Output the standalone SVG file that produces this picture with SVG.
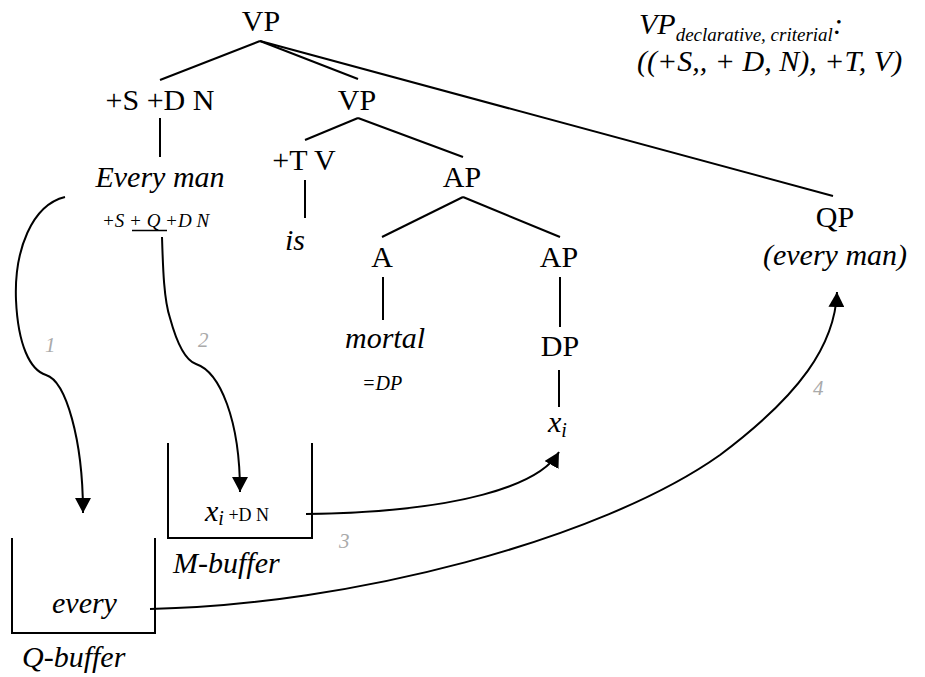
<svg xmlns="http://www.w3.org/2000/svg" width="925" height="677" viewBox="0 0 925 677" font-family="'Liberation Serif', 'DejaVu Serif', serif">
<style>
text{font-family:'Liberation Serif','DejaVu Serif',serif;fill:#000}
.b{font-size:30px}
.i{font-style:italic}
.s{font-size:19px}
.n{font-size:21px;font-style:italic;fill:#aaaaaa}
.e{stroke:#000;stroke-width:2;fill:none}
.a{stroke:#000;stroke-width:2;fill:none;marker-end:url(#ah)}
</style>
<defs>
<marker id="ah" markerUnits="userSpaceOnUse" markerWidth="16" markerHeight="16" refX="15" refY="8" orient="auto" viewBox="0 0 16 16">
<path d="M0,0 L15,8 L0,16 z" fill="#000"/>
</marker>
</defs>
<rect width="925" height="677" fill="#fff"/>
<g id="edges">
<line class="e" x1="260" y1="41" x2="160" y2="80"/>
<line class="e" x1="260" y1="41" x2="358" y2="79"/>
<line class="e" x1="260" y1="41" x2="833" y2="196"/>
<line class="e" x1="160" y1="118" x2="160" y2="157"/>
<line class="e" x1="358" y1="118" x2="305" y2="140"/>
<line class="e" x1="358" y1="118" x2="463" y2="157"/>
<line class="e" x1="305" y1="180" x2="305" y2="218"/>
<line class="e" x1="463" y1="197" x2="382" y2="237"/>
<line class="e" x1="463" y1="197" x2="560" y2="237"/>
<line class="e" x1="383" y1="277" x2="383" y2="320"/>
<line class="e" x1="560" y1="277" x2="560" y2="327"/>
<line class="e" x1="559" y1="370" x2="559" y2="407"/>
</g>
<g id="arrows">
<path class="a" d="M65,197 C32,205 14,250 16,300 C18,345 30,370 46,375 C66,381 83,440 83,513"/>
<path class="a" d="M162,237 C163,270 164,300 170,318 C176,340 184,360 196,364 C220,372 240,420 240,492"/>
<path class="a" d="M306,514 C460,512 540,485 559,452"/>
<path class="a" d="M150,609 C350,605 600,540 720,455 C800,395 835,345 837,292"/>
</g>
<g id="VP-top"><text class="b" x="261" y="31" text-anchor="middle">VP</text></g>
<g id="SDN"><text class="b" x="160" y="110" text-anchor="middle">+S +D N</text></g>
<g id="VP2"><text class="b" x="357" y="110" text-anchor="middle">VP</text></g>
<g id="TV"><text class="b" x="304" y="170" text-anchor="middle">+T V</text></g>
<g id="every-man">
<text class="b i" x="160" y="187" text-anchor="middle">Every man</text>
<text class="s i" x="102" y="227">+S + Q +D N</text>
<line x1="132" y1="230.5" x2="167" y2="230.5" stroke="#000" stroke-width="1.5"/>
</g>
<g id="is"><text class="b i" x="295" y="250" text-anchor="middle">is</text></g>
<g id="AP"><text class="b" x="462" y="187" text-anchor="middle">AP</text></g>
<g id="A"><text class="b" x="382" y="267" text-anchor="middle">A</text></g>
<g id="AP2"><text class="b" x="559" y="267" text-anchor="middle">AP</text></g>
<g id="mortal">
<text class="b i" x="385" y="348" text-anchor="middle">mortal</text>
<text class="i" font-size="20" x="362" y="390">=DP</text>
</g>
<g id="DP"><text class="b" x="560" y="356" text-anchor="middle">DP</text></g>
<g id="xi"><text class="b i" x="548" y="432">x<tspan font-size="20" dy="5">i</tspan></text></g>
<g id="QP">
<text class="b" x="835" y="227" text-anchor="middle">QP</text>
<text class="b i" x="835" y="265" text-anchor="middle">(every man)</text>
</g>
<g id="M-buffer">
<polyline class="e" points="168,443 168,538 312,538 312,443"/>
<text class="b i" x="205" y="521">x<tspan font-size="20" dy="4">i</tspan><tspan font-size="18" font-style="normal" dy="-4"> +D N</tspan></text>
<text class="b i" x="173" y="573">M-buffer</text>
</g>
<g id="Q-buffer">
<polyline class="e" points="12,538 12,633 155,633 155,538"/>
<text class="b i" x="52" y="613">every</text>
<text class="b i" x="22" y="667">Q-buffer</text>
</g>
<g id="labels">
<text class="n" x="45" y="352">1</text>
<text class="n" x="198" y="347">2</text>
<text class="n" x="339" y="548">3</text>
<text class="n" x="813" y="395">4</text>
</g>
<g id="legend">
<text class="b i" x="639" y="34">VP<tspan font-size="19" dy="7">declarative, criterial</tspan><tspan dy="-7">:</tspan></text>
<text class="b i" x="637" y="71">((+S,, + D, N), +T, V)</text>
</g>
</svg>
